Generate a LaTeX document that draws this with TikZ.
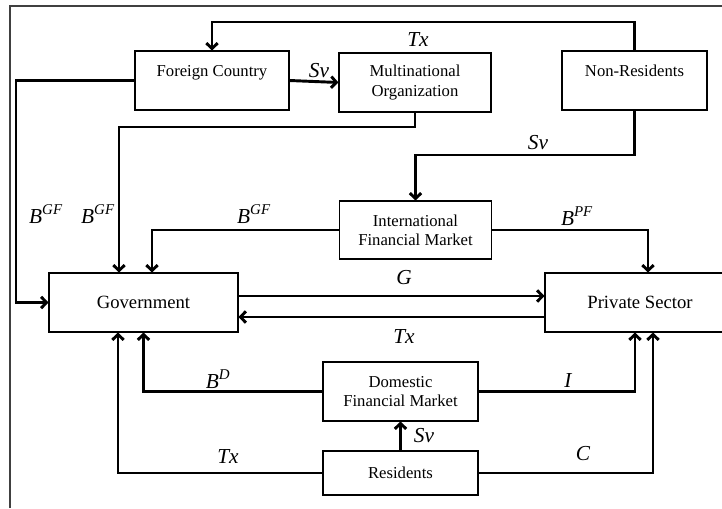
\documentclass[tikz,border=0pt]{standalone}
\usepackage{fontspec}
\setmainfont{Liberation Serif}
\usetikzlibrary{arrows.meta, positioning}

\begin{document}
\begin{tikzpicture}[x=0.75pt, y=-0.75pt, ->, >={Straight Barb[length=4pt, width=8.5pt]}, line width=2.2pt]
    \tikzstyle{sector} = [draw, line width=0.8pt, text centered, align=center, font=\fontsize{12.5}{14.5}\selectfont, minimum width=114pt, minimum height=44.25pt, inner sep=1pt]
    \tikzstyle{big} = [sector, font=\fontsize{14}{16}\selectfont]
    \tikzstyle{flow} = [font=\fontsize{16}{16}\selectfont\itshape, inner sep=0pt]
    \clip[-] (0,0) rectangle (722,508);
    \draw[-, line width=0.8pt, black!75] (10,508) -- (10,6) -- (722,6);
    % sectors
    \node [sector, minimum width=115.5pt] at (212,80.5) (foreign) {Foreign Country\\~};
    \node [sector] at (415,82.5) (multi) {Multinational\\Organization};
    \node [sector, minimum width=108.75pt] at (634.5,80.5) (nonres) {Non-Residents\\~};
    \node [sector, minimum height=43.5pt] at (415.5,230) (intl) {International\\Financial Market};
    \node [big, minimum width=141.75pt] at (143.5,302.5) (gov) {Government};
    \node [big, minimum width=142.5pt] at (640,302.5) (priv) {Private Sector};
    \node [sector, minimum width=116.25pt] at (400.5,391.5) (dom) {Domestic\\Financial Market};
    \node [sector, minimum width=116.25pt, minimum height=33pt] at (400.5,473) (res) {Residents};
    % bend points
    \coordinate (toptx) at (0,22);
    \coordinate (leftgf) at (16,0);
    \coordinate (mbend) at (119,127);
    \coordinate (mdrop) at (119,140);
    \coordinate (nrbend) at (0,155);
    \coordinate (gfb) at (152,0);
    \coordinate (pfa) at (648,0);
    \coordinate (gline) at (0,296);
    \coordinate (tline) at (0,317);
    \coordinate (ia) at (635,0);
    \coordinate (txa) at (118,0);
    \coordinate (ca) at (653,0);
    % flows
    \draw (nonres.north) -- (nonres.north |- toptx) -| (foreign.north);
    \draw (foreign.east) -- (multi.west);
    \draw (foreign.west) -- (foreign.west -| leftgf) |- (gov.west);
    \draw[-, line width=0.8pt] (multi.south) |- (mbend) -- (mdrop);
    \draw (mdrop) -- (mdrop |- gov.north);
    \draw (nonres.south) -- (nonres.south |- nrbend) -| (intl.north);
    \draw (intl.west) -| (gfb |- gov.north);
    \draw (intl.east) -| (pfa |- priv.north);
    \draw (gov.east |- gline) -- (priv.west |- gline);
    \draw (priv.west |- tline) -- (gov.east |- tline);
    \draw (dom.west) -| (gov.south);
    \draw (dom.east) -| (ia |- priv.south);
    \draw (res.north) -- (dom.south);
    \draw (res.west) -| (txa |- gov.south);
    \draw (res.east) -| (ca |- priv.south);
    % labels
    \node [flow] at (418,40) (l-tx1) {Tx};
    \node [flow] at (319,71) (l-sv1) {Sv};
    \node [flow] at (46,214) (l-bgf1) {B\textsuperscript{GF}};
    \node [flow] at (98,214) (l-bgf2) {B\textsuperscript{GF}};
    \node [flow] at (538,143) (l-sv2) {Sv};
    \node [flow] at (254,214) (l-bgf3) {B\textsuperscript{GF}};
    \node [flow] at (577,216) (l-bpf) {B\textsuperscript{PF}};
    \node [flow] at (404,278) (l-g) {G};
    \node [flow] at (404,337) (l-tx2) {Tx};
    \node [flow] at (218,379) (l-bd) {B\textsuperscript{D}};
    \node [flow] at (568,381) (l-i) {I};
    \node [flow] at (424,436) (l-sv3) {Sv};
    \node [flow] at (228,457) (l-tx3) {Tx};
    \node [flow] at (583,454) (l-c) {C};
\end{tikzpicture}
\end{document}
